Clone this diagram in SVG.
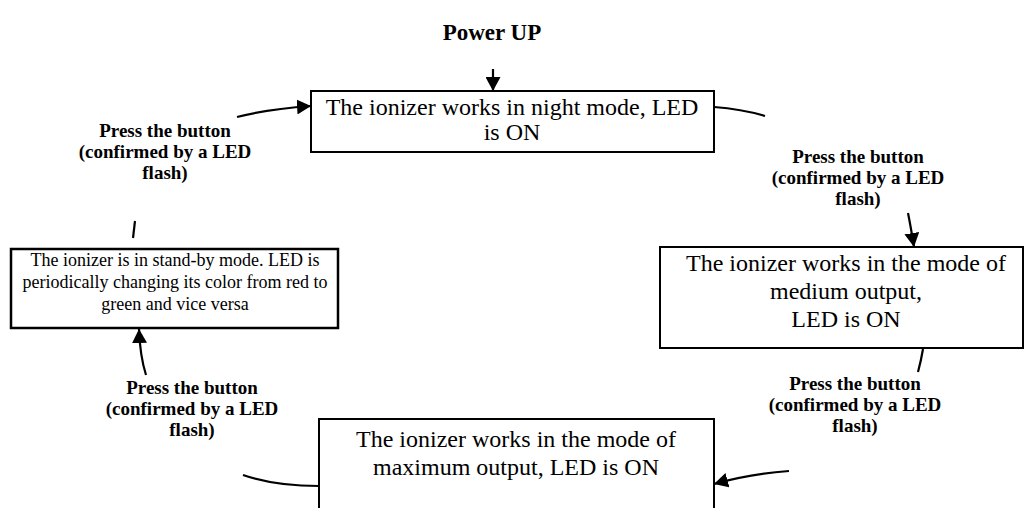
<svg xmlns="http://www.w3.org/2000/svg" width="1025" height="508" viewBox="0 0 1025 508">
<style>
.box{fill:#fff;stroke:#000;stroke-width:2}
.t{font-family:"Liberation Serif","Times New Roman",serif;font-size:24px;fill:#000;text-anchor:middle}
.s{font-family:"Liberation Serif","Times New Roman",serif;font-size:18px;fill:#000;text-anchor:middle}
.l{font-family:"Liberation Serif","Times New Roman",serif;font-size:19px;font-weight:bold;fill:#000;text-anchor:middle}
.c{fill:none;stroke:#000;stroke-width:2.2}
</style>
<defs>
<marker id="ah" markerUnits="userSpaceOnUse" markerWidth="15" markerHeight="15" refX="14" refY="7.5" orient="auto">
<path d="M0,0 L14,7.5 L0,15 z" fill="#000"/>
</marker>
</defs>
<rect width="1025" height="508" fill="#fff"/>
<g id="power-up">
<text class="l" x="492" y="40" style="font-size:23px">Power UP</text>
</g>
<g id="night-mode">
<rect class="box" x="311" y="91" width="403" height="61"/>
<text class="t" x="512" y="115">The ionizer works in night mode, LED</text>
<text class="t" x="512" y="140">is ON</text>
</g>
<g id="medium-output">
<rect class="box" x="660" y="247" width="363" height="101"/>
<text class="t" x="846" y="271">The ionizer works in the mode of</text>
<text class="t" x="846" y="299">medium output,</text>
<text class="t" x="846" y="327">LED is ON</text>
</g>
<g id="maximum-output">
<rect class="box" x="319" y="419" width="395" height="100"/>
<text class="t" x="516" y="447">The ionizer works in the mode of</text>
<text class="t" x="516" y="475">maximum output, LED is ON</text>
</g>
<g id="standby">
<rect class="box" x="11" y="249" width="327" height="79" style="stroke-width:2.5"/>
<text class="s" x="175" y="266">The ionizer is in stand-by mode. LED is</text>
<text class="s" x="175" y="288">periodically changing its color from red to</text>
<text class="s" x="175" y="310">green and vice versa</text>
</g>
<g id="label-top-left">
<text class="l" x="165" y="137">Press the button</text>
<text class="l" x="165" y="158">(confirmed by a LED</text>
<text class="l" x="165" y="179">flash)</text>
</g>
<g id="label-top-right">
<text class="l" x="858" y="163">Press the button</text>
<text class="l" x="858" y="184">(confirmed by a LED</text>
<text class="l" x="858" y="205">flash)</text>
</g>
<g id="label-bottom-right">
<text class="l" x="855" y="390">Press the button</text>
<text class="l" x="855" y="411">(confirmed by a LED</text>
<text class="l" x="855" y="432">flash)</text>
</g>
<g id="label-bottom-left">
<text class="l" x="192" y="394">Press the button</text>
<text class="l" x="192" y="415">(confirmed by a LED</text>
<text class="l" x="192" y="436">flash)</text>
</g>
<g id="connectors">
<path class="c" d="M493,69 L493,91" marker-end="url(#ah)"/>
<path class="c" d="M237,117 Q268,109 311,106" marker-end="url(#ah)"/>
<path class="c" d="M714,107 Q742,109 765,116"/>
<path class="c" d="M908,213 Q911,228 914,247" marker-end="url(#ah)"/>
<path class="c" d="M923,349 Q921,361 918,372"/>
<path class="c" d="M789,471 Q750,474 714,484" marker-end="url(#ah)"/>
<path class="c" d="M243,475 Q275,486 319,486"/>
<path class="c" d="M146,375 Q140,356 139,329" marker-end="url(#ah)"/>
<path class="c" d="M135,221 L133,238"/>
</g>
</svg>
